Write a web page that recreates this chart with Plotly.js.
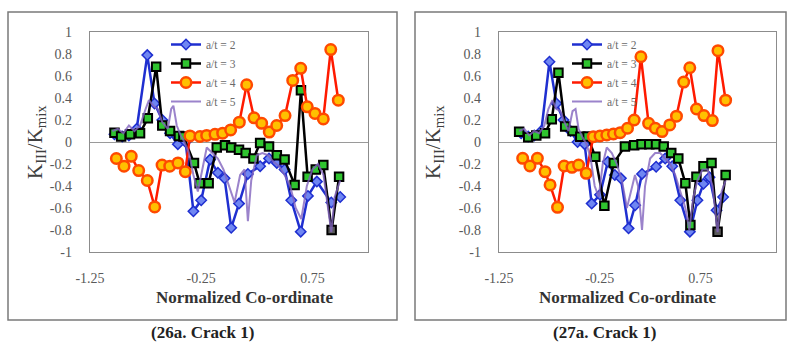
<!DOCTYPE html>
<html>
<head>
<meta charset="utf-8">
<script src="https://cdn.plot.ly/plotly-3.0.1.min.js"></script>
<style>html,body{margin:0;padding:0;background:#fff;}#chart{width:788px;height:342px;}</style>
</head>
<body>
<div id="chart"></div>
<script>
// ---------- DATA: chart 26a (left) ----------
const x2a = [-1.03,-0.96,-0.90,-0.83,-0.735,-0.67,-0.60,-0.53,-0.46,-0.39,-0.32,-0.25,-0.17,-0.10,-0.04,0.02,0.09,0.17,0.28,0.36,0.43,0.50,0.56,0.645,0.71,0.79,0.92,1.0];
const y2a = [0.07,0.05,0.06,0.12,0.79,0.35,0.2,0.08,-0.02,0.0,-0.63,-0.53,-0.16,-0.28,-0.33,-0.78,-0.56,-0.29,-0.22,-0.15,-0.19,-0.25,-0.53,-0.815,-0.49,-0.36,-0.55,-0.50];
const x3a = [-1.03,-0.97,-0.89,-0.80,-0.73,-0.655,-0.60,-0.53,-0.45,-0.41,-0.315,-0.264,-0.183,-0.11,-0.036,0.02,0.09,0.15,0.22,0.28,0.36,0.43,0.50,0.59,0.647,0.707,0.78,0.848,0.923,0.99];
const y3a = [0.085,0.05,0.07,0.08,0.215,0.685,0.15,0.10,0.055,0.05,-0.19,-0.375,-0.375,-0.05,-0.03,-0.05,-0.07,-0.10,-0.15,-0.01,-0.04,-0.12,-0.16,-0.39,0.47,-0.315,-0.25,-0.21,-0.80,-0.315];
const x4a = [-1.013,-0.944,-0.879,-0.812,-0.735,-0.668,-0.602,-0.533,-0.459,-0.393,-0.351,-0.261,-0.201,-0.126,-0.057,0.015,0.093,0.159,0.225,0.294,0.362,0.429,0.504,0.573,0.645,0.704,0.773,0.848,0.915,0.983];
const y4a = [-0.15,-0.22,-0.13,-0.26,-0.35,-0.59,-0.21,-0.22,-0.19,-0.27,0.055,0.05,0.06,0.07,0.08,0.11,0.18,0.52,0.22,0.17,0.09,0.15,0.24,0.56,0.67,0.32,0.26,0.21,0.84,0.38];
const x5a = [-1.05,-1.0,-0.95,-0.9,-0.85,-0.8,-0.75,-0.72,-0.68,-0.64,-0.6,-0.55,-0.52,-0.5,-0.47,-0.43,-0.4,-0.36,-0.32,-0.28,-0.24,-0.2,-0.15,-0.1,-0.05,0.0,0.05,0.1,0.14,0.17,0.2,0.25,0.3,0.35,0.4,0.45,0.5,0.55,0.6,0.65,0.7,0.75,0.8,0.85,0.9,0.92,0.95,1.0];
const y5a = [0.1,0.12,0.08,0.15,0.1,0.15,0.3,0.38,0.33,0.3,0.18,0.12,0.3,0.33,0.15,0.05,0.0,-0.1,-0.3,-0.45,-0.25,-0.05,-0.1,-0.15,-0.25,-0.4,-0.55,-0.3,-0.25,-0.72,-0.35,-0.12,-0.1,-0.12,-0.18,-0.22,-0.3,-0.4,-0.6,-0.7,-0.4,-0.25,-0.2,-0.3,-0.65,-0.82,-0.5,-0.35];

// ---------- DATA: chart 27a (right) ----------
const x2b = [-1.03,-0.96,-0.90,-0.83,-0.749,-0.68,-0.61,-0.54,-0.47,-0.40,-0.33,-0.247,-0.17,-0.10,-0.04,0.036,0.102,0.17,0.31,0.40,0.47,0.55,0.645,0.72,0.78,0.84,0.91,0.975];
const y2b = [0.08,0.05,0.06,0.10,0.73,0.35,0.2,0.1,0.0,-0.02,-0.56,-0.48,-0.18,-0.30,-0.33,-0.785,-0.575,-0.29,-0.225,-0.15,-0.22,-0.53,-0.815,-0.53,-0.38,-0.32,-0.62,-0.50];
const x3b = [-1.05,-0.96,-0.88,-0.793,-0.726,-0.66,-0.593,-0.52,-0.443,-0.37,-0.294,-0.204,-0.11,0.0,0.092,0.165,0.242,0.309,0.385,0.46,0.53,0.60,0.65,0.71,0.78,0.86,0.92,1.0];
const y3b = [0.094,0.043,0.06,0.08,0.206,0.63,0.14,0.10,0.048,0.05,-0.134,-0.58,-0.19,-0.04,-0.03,-0.02,-0.02,-0.02,-0.04,-0.10,-0.15,-0.375,-0.755,-0.315,-0.22,-0.19,-0.815,-0.30];
const x4b = [-1.015,-0.943,-0.869,-0.793,-0.743,-0.669,-0.603,-0.526,-0.46,-0.384,-0.314,-0.247,-0.18,-0.114,-0.047,0.026,0.092,0.159,0.235,0.302,0.369,0.445,0.512,0.584,0.644,0.711,0.784,0.868,0.924,1.0];
const y4b = [-0.148,-0.218,-0.148,-0.27,-0.39,-0.594,-0.218,-0.23,-0.21,-0.285,0.048,0.055,0.064,0.073,0.085,0.125,0.2,0.775,0.17,0.125,0.095,0.155,0.235,0.545,0.675,0.30,0.24,0.195,0.83,0.38];
const x5b = [-1.05,-1.0,-0.95,-0.9,-0.85,-0.8,-0.76,-0.72,-0.68,-0.64,-0.6,-0.56,-0.52,-0.49,-0.46,-0.42,-0.38,-0.34,-0.3,-0.26,-0.22,-0.18,-0.13,-0.08,-0.03,0.02,0.06,0.1,0.13,0.17,0.2,0.25,0.3,0.35,0.4,0.45,0.5,0.55,0.6,0.64,0.68,0.72,0.77,0.82,0.87,0.92,0.96,1.0];
const y5b = [0.1,0.12,0.06,0.1,0.08,0.15,0.3,0.38,0.3,0.28,0.18,0.1,0.28,0.3,0.12,0.04,-0.02,-0.15,-0.4,-0.5,-0.2,-0.05,-0.1,-0.2,-0.35,-0.6,-0.45,-0.3,-0.4,-0.8,-0.4,-0.15,-0.1,-0.1,-0.15,-0.2,-0.3,-0.45,-0.6,-0.8,-0.5,-0.35,-0.25,-0.25,-0.4,-0.82,-0.45,-0.35];

const seriesNames = ['a/t = 2','a/t = 3','a/t = 4','a/t = 5'];
const xTicks = [-1.25,-0.25,0.75];
const yTicks = [-1,-0.8,-0.6,-0.4,-0.2,0,0.2,0.4,0.6,0.8,1];
const captions = ['(26a. Crack 1)','(27a. Crack 1)'];
const xTitle = 'Normalized Co-ordinate';
const yTitle = 'K<sub>III</sub>/K<sub>mix</sub>';

// ---------- STYLE ----------
const W = 788, H = 342;
const px = v => v / W, py = v => 1 - v / H;

function makeTraces(xs, ys, xa, ya, leg) {
  const [x2,x3,x4,x5] = xs, [y2,y3,y4,y5] = ys;
  return [
    {x:x2, y:y2, name:seriesNames[0], type:'scatter', mode:'lines+markers', xaxis:xa, yaxis:ya, legend:leg,
     line:{color:'#1f2fd0', width:2.5},
     marker:{symbol:'diamond', size:8, color:'#6f86f2', line:{color:'#1f2fd0', width:1.5}}},
    {x:x3, y:y3, name:seriesNames[1], type:'scatter', mode:'lines+markers', xaxis:xa, yaxis:ya, legend:leg,
     line:{color:'#000000', width:2.5},
     marker:{symbol:'square', size:8.5, color:y3.map((v,i)=> i===y3.length-2 ? '#5a5a5a' : '#2fc42f'), line:{color:'#000', width:2}}},
    {x:x4, y:y4, name:seriesNames[2], type:'scatter', mode:'lines+markers', xaxis:xa, yaxis:ya, legend:leg,
     line:{color:'#ff1a00', width:2.5},
     marker:{symbol:'circle', size:10.5, color:'#ffc000', line:{color:'#ff4a00', width:2.5}}},
    {x:x5, y:y5, name:seriesNames[3], type:'scatter', mode:'lines', xaxis:xa, yaxis:ya, legend:leg,
     line:{color:'rgba(130,100,190,0.8)', width:2}}
  ];
}

const data = [
  ...makeTraces([x2a,x3a,x4a,x5a],[y2a,y3a,y4a,y5a],'x','y','legend'),
  ...makeTraces([x2b,x3b,x4b,x5b],[y2b,y3b,y4b,y5b],'x2','y2','legend2')
];

const tickFont = {family:'Liberation Serif, serif', size:14, color:'#595959'};
function xAxis(dom, rng, anchor) {
  return {domain:dom, range:rng, anchor:anchor, tickmode:'array', tickvals:xTicks, ticktext:xTicks.map(String),
    showgrid:false, zeroline:false, showline:true, mirror:true, linecolor:'#8c8c8c', linewidth:1.2,
    ticks:'', ticklabelstandoff:13, tickfont:tickFont, fixedrange:true};
}
function yAxis(anchor) {
  return {domain:[py(252), py(32)], range:[-1,1], anchor:anchor, tickmode:'array', tickvals:yTicks, ticktext:yTicks.map(String),
    showgrid:false, zeroline:true, zerolinecolor:'#9a9a9a', zerolinewidth:1, showline:true, mirror:true,
    linecolor:'#8c8c8c', linewidth:1.2, ticks:'', ticklabelstandoff:14, tickfont:tickFont, fixedrange:true};
}
const legFont = {family:'Liberation Serif, serif', size:11.5, color:'#6a6a6a'};
function legendAt(xp) {
  return {x:px(xp), y:py(30), xanchor:'left', yanchor:'top', bgcolor:'rgba(0,0,0,0)', font:legFont,
    itemwidth:30, tracegroupgap:0, itemsizing:'trace'};
}
const annFontT = {family:'Liberation Serif, serif', size:17, color:'#333'};
const yTitleFont = {family:'Liberation Serif, serif', size:21, color:'#404040'};
const capFont = {family:'Liberation Serif, serif', size:17, color:'#222'};
function ann(x, y, text, font, extra) {
  return Object.assign({x:px(x), y:py(y), xref:'paper', yref:'paper', xanchor:'center', yanchor:'middle',
    text:text, showarrow:false, font:font}, extra || {});
}
const annotations = [
  ann(245, 297, '<b>'+xTitle+'</b>', annFontT),
  ann(628, 297, '<b>'+xTitle+'</b>', annFontT),
  ann(36, 142, yTitle, yTitleFont, {textangle:-90}),
  ann(434, 142, yTitle, yTitleFont, {textangle:-90}),
  ann(202, 332, '<b>'+captions[0]+'</b>', capFont),
  ann(604, 332, '<b>'+captions[1]+'</b>', capFont)
];
const boxLine = {color:'#7a7a7a', width:1.5};
const shapes = [
  {type:'rect', xref:'paper', yref:'paper', x0:px(8), x1:px(397), y0:py(320), y1:py(12), line:boxLine},
  {type:'rect', xref:'paper', yref:'paper', x0:px(415), x1:px(786), y0:py(320), y1:py(12), line:boxLine}
];

const layout = {
  width:W, height:H, margin:{l:0,r:0,t:0,b:0}, paper_bgcolor:'#fff', plot_bgcolor:'#fff',
  showlegend:true,
  xaxis: xAxis([px(90), px(368)], [-1.25, 1.25], 'y'),
  yaxis: yAxis('x'),
  xaxis2: xAxis([px(499), px(776)], [-1.25, 1.5], 'y2'),
  yaxis2: yAxis('x2'),
  legend: legendAt(166),
  legend2: legendAt(567),
  annotations: annotations,
  shapes: shapes
};

Plotly.newPlot('chart', data, layout, {displayModeBar:false, staticPlot:true});
</script>
</body>
</html>
